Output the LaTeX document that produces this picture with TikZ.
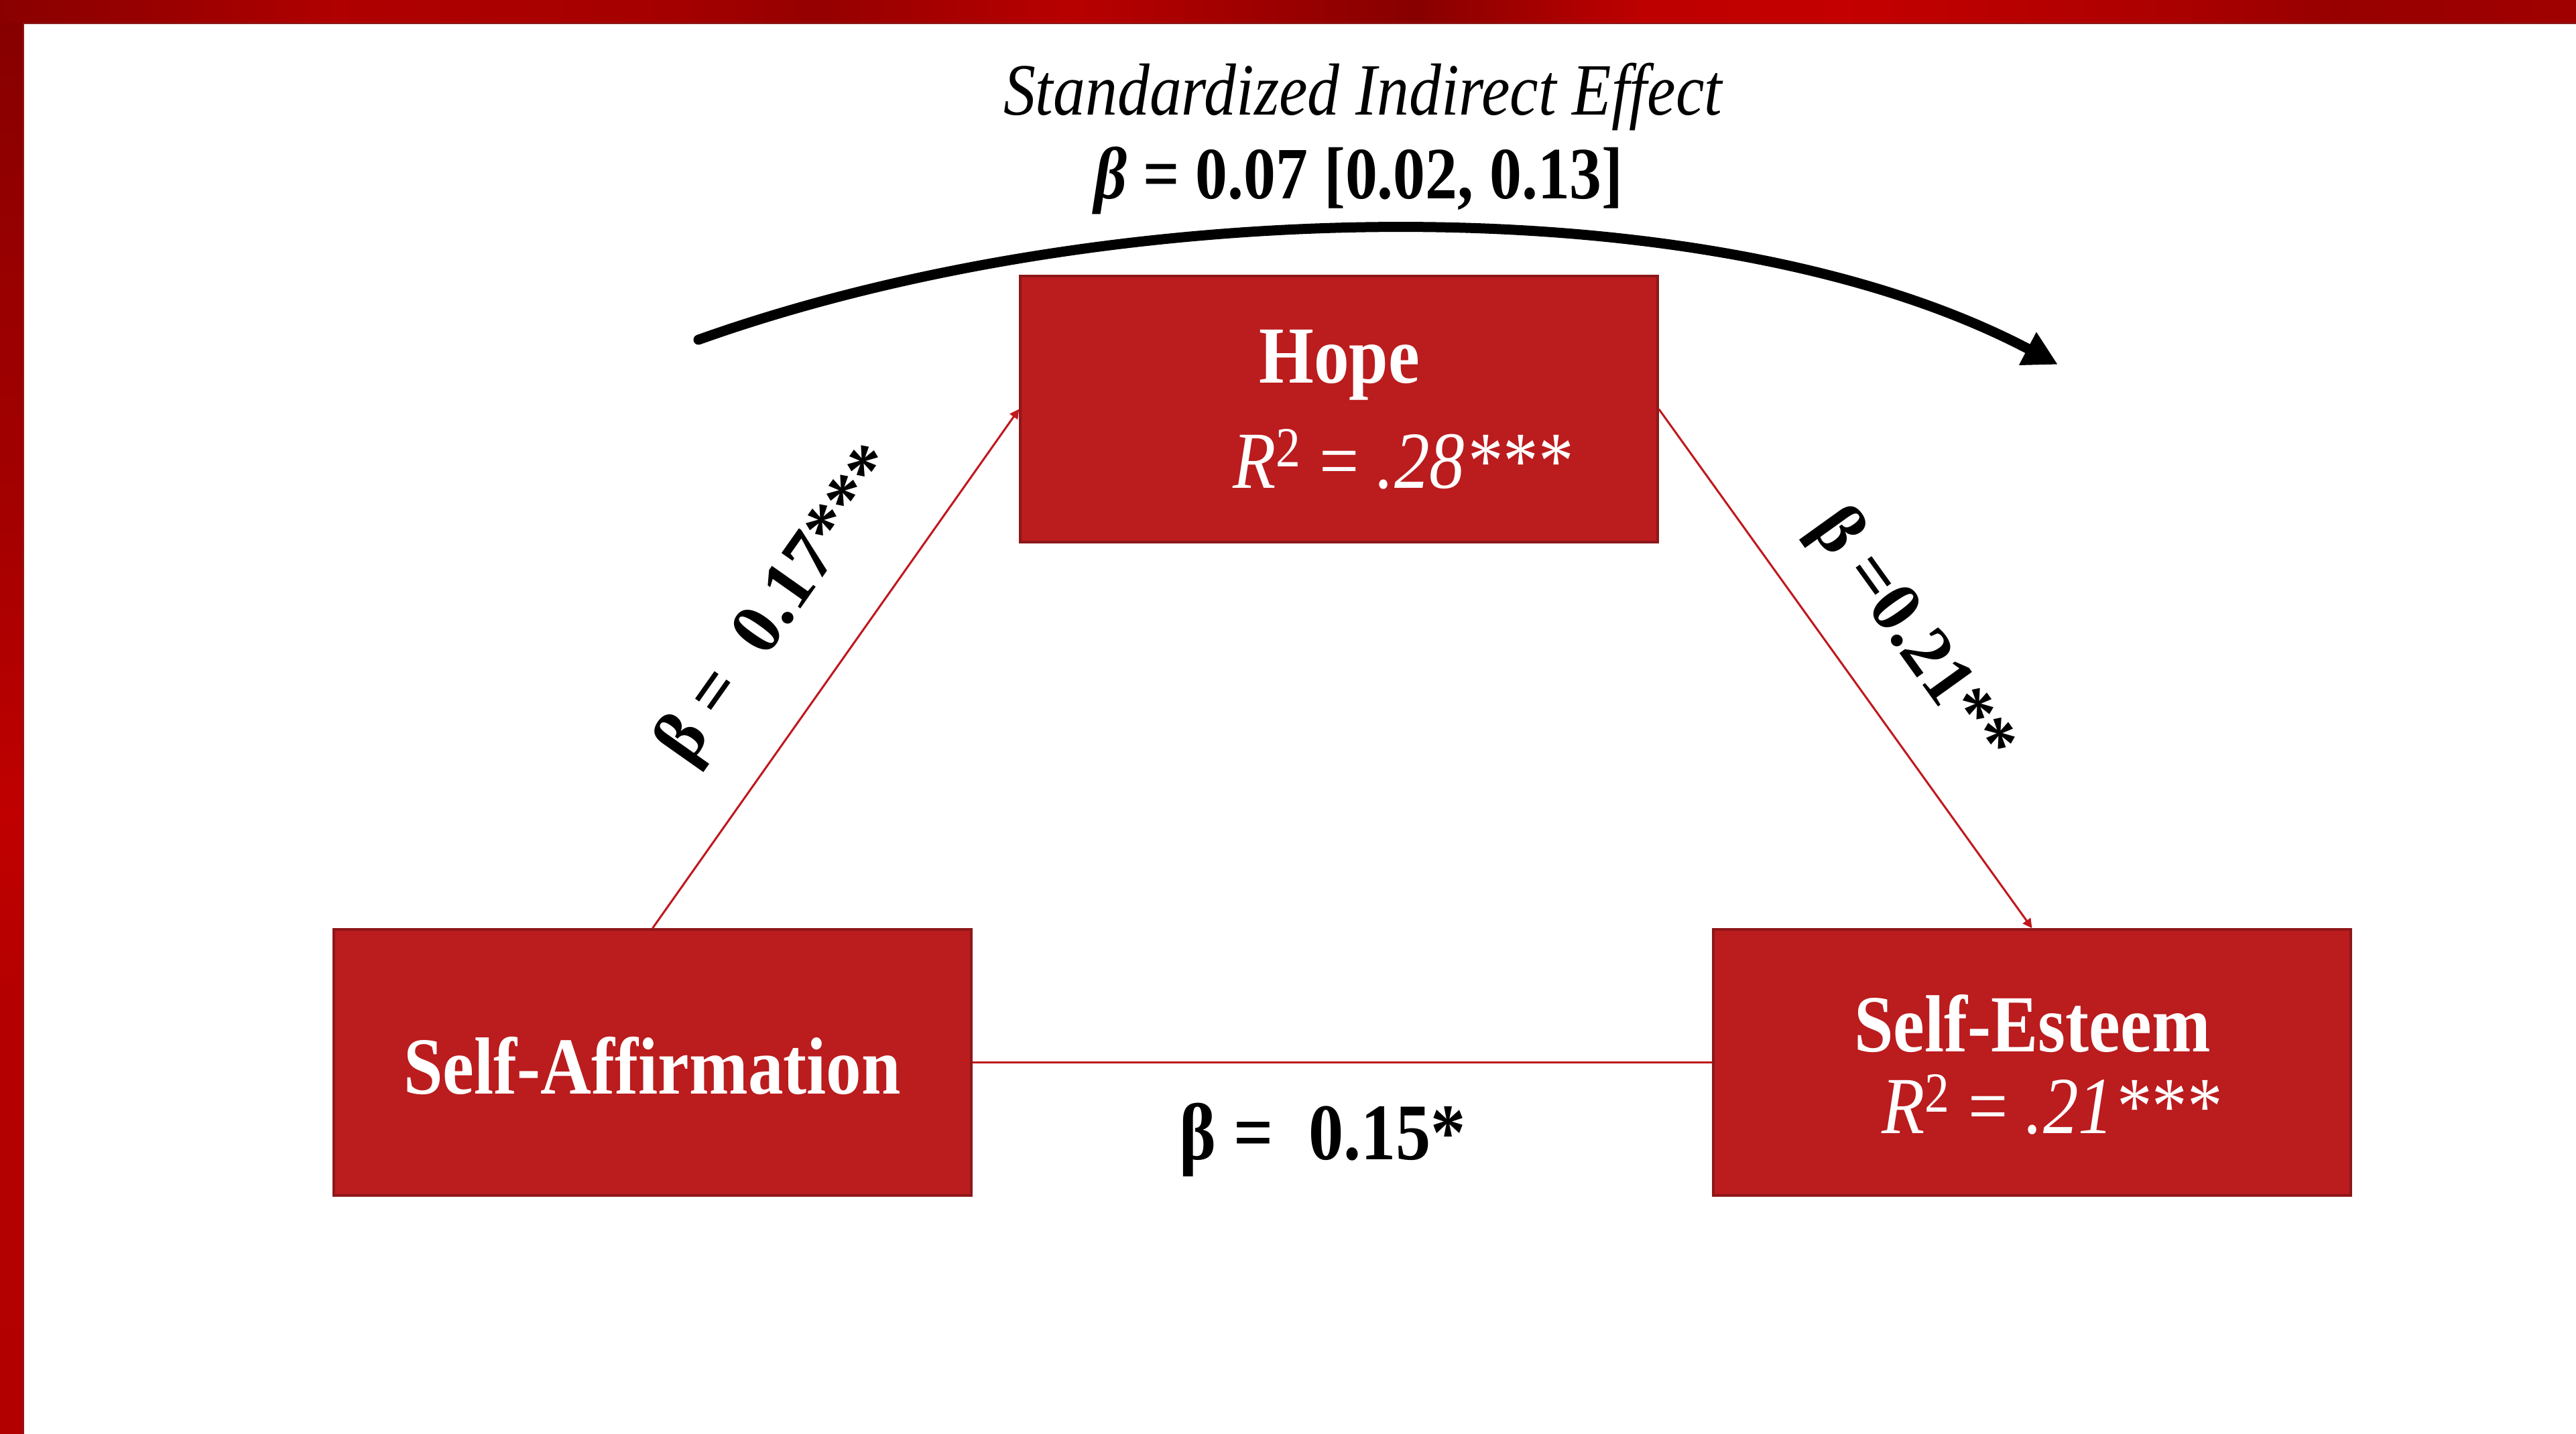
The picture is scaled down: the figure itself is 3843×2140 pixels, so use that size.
\documentclass[tikz,border=0pt]{standalone}
\usepackage{fontspec}
\setmainfont{Liberation Serif}[FakeStretch=0.87]
\newfontfamily\slopedfont{Liberation Serif}
\usetikzlibrary{arrows.meta,calc,positioning}
\definecolor{BrickRed}{HTML}{BB1C1E}
\definecolor{BrickEdge}{HTML}{8E1719}
\definecolor{PathRed}{HTML}{C0181C}
\definecolor{FrameEdge}{HTML}{8B1A1A}
\pgfdeclarehorizontalshading{topband}{100bp}{rgb(0bp)=(0.541,0,0); rgb(25bp)=(0.541,0,0);
  rgb(28.25bp)=(0.604,0,0); rgb(31.5bp)=(0.690,0,0); rgb(38bp)=(0.647,0,0);
  rgb(40.9bp)=(0.588,0,0); rgb(45.8bp)=(0.722,0,0); rgb(52.45bp)=(0.533,0,0);
  rgb(56.9bp)=(0.745,0,0); rgb(60.8bp)=(0.769,0,0); rgb(66.6bp)=(0.682,0,0);
  rgb(70.3bp)=(0.596,0,0); rgb(75bp)=(0.627,0,0); rgb(100bp)=(0.627,0,0)}
\pgfdeclareverticalshading{sideband}{100bp}{rgb(0bp)=(0.698,0,0); rgb(25bp)=(0.698,0,0);
  rgb(40bp)=(0.706,0,0); rgb(47bp)=(0.753,0,0); rgb(57.5bp)=(0.643,0,0);
  rgb(65.4bp)=(0.604,0,0); rgb(75bp)=(0.529,0,0); rgb(100bp)=(0.529,0,0)}

\begin{document}
\begin{tikzpicture}[
  x=0.1mm,
  y=-0.1mm,
  >=Latex,
  box/.style={rectangle,draw=BrickEdge,line width=0.35mm,fill=BrickRed,minimum width=95.1mm,minimum height=39.7mm,inner sep=0pt},
  box title/.style={anchor=base,inner sep=0pt,text=white,font=\fontsize{34.4}{40}\selectfont\bfseries},
  box stat/.style={anchor=base,inner sep=0pt,text=white,font=\fontsize{34.4}{40}\selectfont},
  path edge/.style={draw=PathRed,line width=0.3mm,-{Triangle[length=1.4mm,width=1.4mm]}},
  direct edge/.style={draw=PathRed,line width=0.3mm},
  coef label/.style={inner sep=0pt,sloped,font=\slopedfont\fontsize{30.7}{36}\selectfont\bfseries},
  flat label/.style={anchor=base,inner sep=0pt,font=\fontsize{34.1}{40}\selectfont\bfseries},
  top label/.style={anchor=base,inner sep=0pt,font=\fontsize{31.3}{36}\selectfont},
  effect arrow/.style={line width=1.5mm,line cap=round,-{Triangle[length=5.1mm,width=5.2mm]}}
]
  \fill[white] (0,0) rectangle (3843,2140);
  \useasboundingbox (0,0) rectangle (3843,2140);

  % slide frame
  \shade[shading=topband] (0,0) rectangle (3843,35);
  \shade[shading=sideband] (0,35) rectangle (35,2140);
  \draw[FrameEdge,line width=0.2mm] (35,2140) -- (35,35) -- (3843,35);

  % boxes
  \node[box] (hope) at (1997.5,610.5) {};
  \node[box] (affirm) at (973.5,1585.5) {};
  \node[box] (esteem) at (3031.5,1585.5) {};

  \node[box title] (hope name) at (1998,571) {Hope};
  \node[box stat] (hope r2) at (2091,728) {\textit{R}\textsuperscript{2} = \textit{.28***}};
  \node[box title] (affirm name) at (973,1632) {Self-Affirmation};
  \node[box title] (esteem name) at (3032,1569) {Self-Esteem};
  \node[box stat] (esteem r2) at (3059,1691) {\textit{R}\textsuperscript{2} = \textit{.21***}};

  % paths
  \draw[path edge] (affirm.north) -- node[coef label,pos=0.53,above=7mm] (a coef) {β =~~0.17***} (hope.west);
  \draw[path edge] (hope.east) -- node[coef label,pos=0.52,above=5.5mm] (b coef) {β =0.21**} (esteem.north);
  \draw[direct edge] (affirm.east) -- (esteem.west);
  \node[flat label] (c coef) at (1973,1730) {β =~~0.15*};

  % indirect effect
  \coordinate (effect start) at (1042,507);
  \coordinate (effect end) at (3070,544);
  \draw[effect arrow] (effect start) .. controls (1650,290) and (2550,270) .. (effect end);
  \node[top label] (effect title) at (2034,172) {\textit{Standardized Indirect Effect}};
  \node[top label] (effect value) at (2027,297) {\textbf{\textit{β} = 0.07 [0.02, 0.13]}};
\end{tikzpicture}
\end{document}
